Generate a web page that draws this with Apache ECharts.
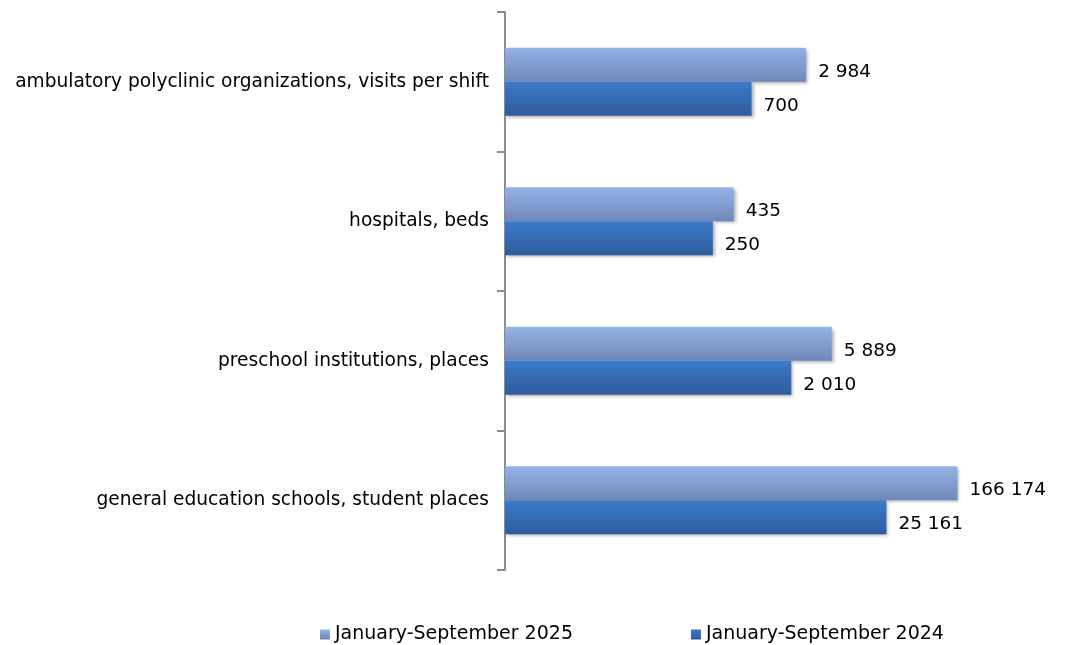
<!DOCTYPE html>
<html>
<head>
<meta charset="utf-8">
<script src="https://cdn.jsdelivr.net/npm/echarts@6/dist/echarts.min.js"></script>
<style>
  html, body { margin: 0; padding: 0; background: #fff; }
  #chart { width: 1068px; height: 645px; }
</style>
</head>
<body>
<div id="chart"></div>
<script>
// categories from top to bottom
var categories = [
  "ambulatory polyclinic organizations, visits per shift",
  "hospitals, beds",
  "preschool institutions, places",
  "general education schools, student places"
];
var seriesNames = ["January-September 2025", "January-September 2024"];
var values2025 = [2984, 435, 5889, 166174];
var values2024 = [700, 250, 2010, 25161];

var FONT = "DejaVu Sans";

function fmt(v) {
  // thousands separated with a space
  return String(v).replace(/\B(?=(\d{3})+(?!\d))/g, " ");
}

function grad(top, bottom) {
  return new echarts.graphic.LinearGradient(0, 0, 0, 1, [
    { offset: 0, color: top },
    { offset: 1, color: bottom }
  ]);
}

var chart = echarts.init(document.getElementById("chart"));

var labelStyle = {
  show: true,
  position: "right",
  distance: 12,
  offset: [0, 7],
  color: "#000",
  fontFamily: FONT,
  fontSize: 18.5,
  formatter: function (p) {
    return fmt(p.value);
  }
};

var option = {
  animation: false,
  grid: {
    left: 505,
    right: 43,
    top: 12,
    bottom: 75
  },
  legend: {
    data: seriesNames,
    left: 320,
    top: 625,
    padding: 0,
    itemWidth: 10,
    itemHeight: 10,
    itemGap: 118,
    icon: "rect",
    textStyle: {
      fontFamily: FONT,
      fontSize: 19,
      color: "#000"
    }
  },
  xAxis: {
    type: "log",
    logBase: 10,
    min: 1,
    max: 1000000,
    show: false
  },
  yAxis: {
    type: "category",
    inverse: true,
    data: categories,
    axisLine: {
      lineStyle: { color: "#8c8c8c", width: 2 }
    },
    axisTick: {
      show: true,
      length: 8,
      lineStyle: { color: "#8c8c8c", width: 2 }
    },
    axisLabel: {
      margin: 16,
      padding: [7, 0, 0, 0],
      color: "#000",
      fontFamily: FONT,
      fontSize: 18.6
    },
    splitLine: { show: false }
  },
  series: [
    {
      name: seriesNames[0],
      type: "bar",
      barWidth: 34,
      barGap: "0%",
      data: values2025,
      itemStyle: {
        color: grad("#95b3e6", "#6f87b8"),
        shadowColor: "rgba(0,0,0,0.3)",
        shadowBlur: 3,
        shadowOffsetX: 2,
        shadowOffsetY: 2
      },
      label: labelStyle
    },
    {
      name: seriesNames[1],
      type: "bar",
      barWidth: 34,
      barGap: "0%",
      data: values2024,
      itemStyle: {
        color: grad("#3c7bcc", "#2d5b9a"),
        shadowColor: "rgba(0,0,0,0.3)",
        shadowBlur: 3,
        shadowOffsetX: 2,
        shadowOffsetY: 2
      },
      label: labelStyle
    }
  ]
};

chart.setOption(option);
</script>
</body>
</html>
